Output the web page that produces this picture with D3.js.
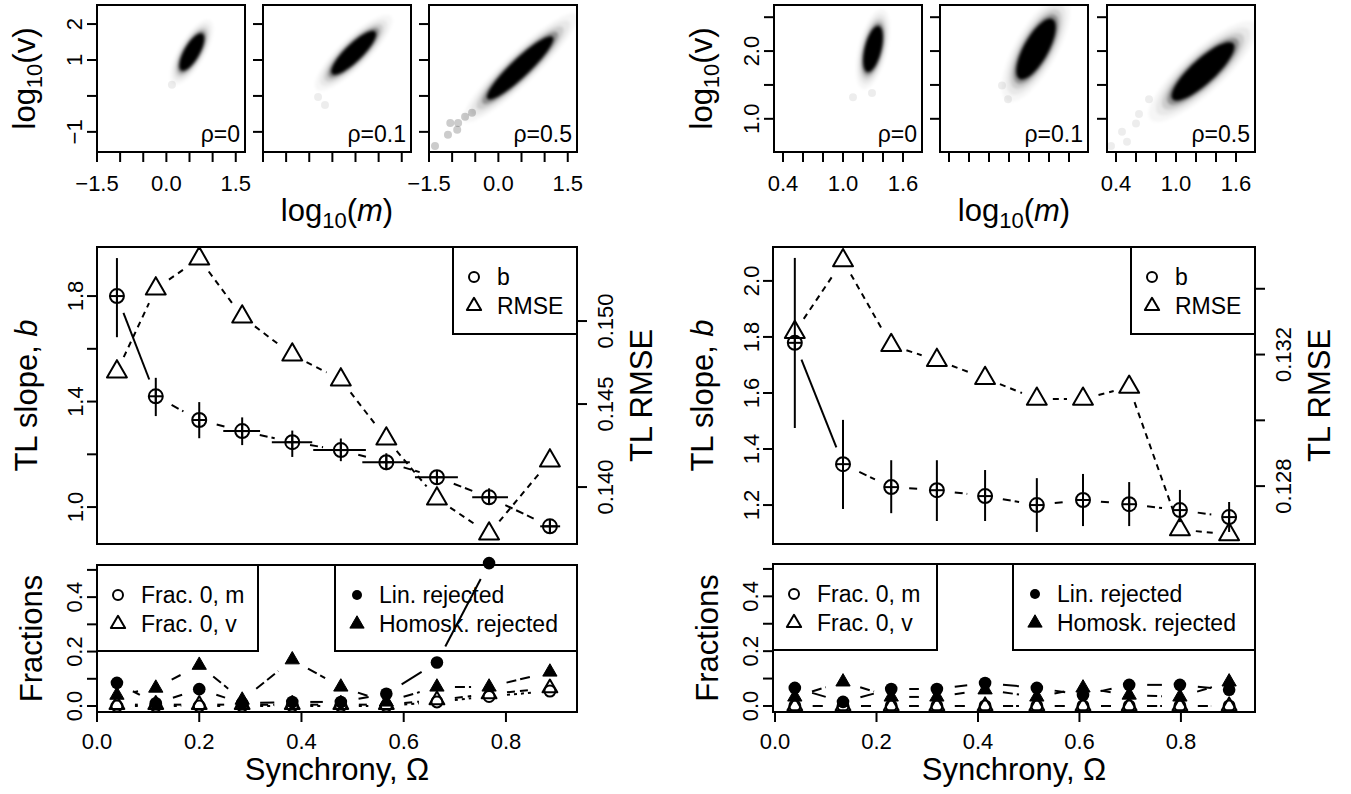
<!DOCTYPE html>
<html><head><meta charset="utf-8">
<script src="https://d3js.org/d3.v7.min.js"></script>
<style>
body{margin:0;background:#fff;}
svg text{font-family:"Liberation Sans",Arial,Helvetica,sans-serif;fill:#000;}
</style></head><body>
<svg id="chart" width="1351" height="794"></svg>
<script>
// ===================== DATA =====================
const rhoLabels = ["ρ=0", "ρ=0.1", "ρ=0.5"];
// scatter clouds, left figure: centre, spread and correlation of log10(m), log10(v)
const cloudLMeanM = [0.55, 0.46, 0.47];
const cloudLMeanV = [1.22, 1.20, 0.78];
const cloudLSdM   = [0.15, 0.27, 0.40];
const cloudLSdV   = [0.29, 0.34, 0.49];
const cloudLCorr  = [0.72, 0.85, 0.92];
const strayLPanel = [0, 1, 1, 2, 2, 2, 2, 2, 2, 2];
const strayLM     = [0.12, -0.16, -0.31, -1.37, -1.09, -0.89, -1.04, -0.87, -0.72, -0.57];
const strayLV     = [0.31, -0.25, -0.03, -1.39, -1.08, -0.94, -0.75, -0.75, -0.58, -0.47];
// scatter clouds, right figure
const cloudRMeanM = [1.30, 1.27, 1.27];
const cloudRMeanV = [2.03, 2.03, 1.70];
const cloudRSdM   = [0.055, 0.11, 0.175];
const cloudRSdV   = [0.19, 0.25, 0.24];
const cloudRCorr  = [0.50, 0.72, 0.84];
const strayRPanel = [0, 0, 1, 1, 2, 2, 2, 2, 2, 2];
const strayRM     = [1.10, 1.29, 0.93, 0.99, 0.35, 0.46, 0.51, 0.63, 0.73, 0.60];
const strayRV     = [1.32, 1.38, 1.49, 1.29, 0.60, 0.81, 0.66, 1.07, 1.29, 0.93];

// scatter tick labels
const scatXTicksL = [-1.5, -1, -0.5, 0, 0.5, 1, 1.5];
const scatXLabsL  = ["−1.5", "", "", "0.0", "", "", "1.5"];
const scatYTicksL = [-1, 0, 1, 2];
const scatYLabsL  = ["−1", "", "1", "2"];
const scatXTicksR = [0.4, 0.6, 0.8, 1.0, 1.2, 1.4, 1.6];
const scatXLabsR  = ["0.4", "", "", "1.0", "", "", "1.6"];
const scatYTicksR = [1.0, 1.5, 2.0, 2.5];
const scatYLabsR  = ["1.0", "", "2.0", ""];

// TL slope / RMSE, left figure
const omegaL    = [0.039, 0.115, 0.200, 0.284, 0.382, 0.477, 0.566, 0.665, 0.767, 0.886];
const omegaLoL  = [0.039, 0.115, 0.200, 0.247, 0.342, 0.423, 0.519, 0.622, 0.734, 0.867];
const omegaHiL  = [0.039, 0.115, 0.200, 0.319, 0.421, 0.526, 0.612, 0.706, 0.804, 0.906];
const slopeL    = [1.800, 1.420, 1.330, 1.288, 1.246, 1.216, 1.170, 1.113, 1.037, 0.927];
const slopeLoL  = [1.644, 1.345, 1.261, 1.235, 1.190, 1.174, 1.140, 1.090, 1.014, 0.904];
const slopeHiL  = [1.944, 1.490, 1.398, 1.340, 1.290, 1.260, 1.204, 1.140, 1.071, 0.950];
const rmseL     = [0.14695, 0.15195, 0.15376, 0.15026, 0.14797, 0.14647, 0.14291, 0.13930, 0.13719, 0.14159];
// TL slope / RMSE, right figure
const omegaR    = [0.039, 0.134, 0.229, 0.319, 0.414, 0.516, 0.607, 0.698, 0.798, 0.895];
const slopeR    = [1.779, 1.346, 1.264, 1.253, 1.232, 1.200, 1.218, 1.203, 1.182, 1.157];
const slopeLoR  = [1.475, 1.186, 1.171, 1.143, 1.143, 1.104, 1.125, 1.125, 1.139, 1.104];
const slopeHiR  = [2.082, 1.504, 1.360, 1.360, 1.325, 1.296, 1.311, 1.282, 1.254, 1.211];
const rmseR     = [0.13268, 0.13486, 0.13228, 0.13183, 0.13128, 0.13065, 0.13065, 0.13101, 0.12668, 0.12653];

const slopeTicksL = [1.0, 1.2, 1.4, 1.6, 1.8];
const slopeLabsL  = ["1.0", "", "1.4", "", "1.8"];
const rmseTicksL  = [0.140, 0.145, 0.150];
const rmseLabsL   = ["0.140", "0.145", "0.150"];
const slopeTicksR = [1.2, 1.4, 1.6, 1.8, 2.0];
const slopeLabsR  = ["1.2", "1.4", "1.6", "1.8", "2.0"];
const rmseTicksR  = [0.128, 0.130, 0.132, 0.134];
const rmseLabsR   = ["0.128", "", "0.132", ""];

// Fractions, left figure
const frac0mL  = [0.0, 0.0, 0.0, 0.0, 0.0, 0.0, 0.0, 0.015, 0.035, 0.055];
const frac0vL  = [0.005, 0.005, 0.005, 0.005, 0.005, 0.005, 0.005, 0.022, 0.044, 0.066];
const linRejL  = [0.085, 0.010, 0.062, 0.010, 0.015, 0.015, 0.045, 0.160, 0.525, null];
const homRejL  = [0.040, 0.066, 0.150, 0.022, 0.170, 0.070, 0.015, 0.070, 0.070, 0.125];
// Fractions, right figure
const frac0mR  = [0, 0, 0, 0, 0, 0, 0, 0, 0, 0];
const frac0vR  = [0, 0, 0, 0, 0, 0, 0, 0, 0, 0];
const linRejR  = [0.066, 0.015, 0.062, 0.062, 0.084, 0.066, 0.040, 0.077, 0.077, 0.059];
const homRejR  = [0.033, 0.088, 0.033, 0.033, 0.059, 0.033, 0.066, 0.040, 0.033, 0.088];

const fracTicks = [0, 0.1, 0.2, 0.3, 0.4, 0.5];
const fracLabs  = ["0.0", "", "0.2", "", "0.4", ""];
const omegaTicks = [0, 0.2, 0.4, 0.6, 0.8];
const omegaLabs  = ["0.0", "0.2", "0.4", "0.6", "0.8"];

const legendMid = ["b", "RMSE"];
const legendFrac1 = ["Frac. 0, m", "Frac. 0, v"];
const legendFrac2 = ["Lin. rejected", "Homosk. rejected"];

// ===================== DRAWING =====================
const svg = d3.select("#chart");
const defs = svg.append("defs");
defs.append("filter").attr("id", "soft").attr("x", "-20%").attr("y", "-20%").attr("width", "140%").attr("height", "140%")
  .append("feGaussianBlur").attr("stdDeviation", 1.8);

const TICK_FS = 22, TITLE_FS = 31, LEG_FS = 23;
const LW = 2;

function triPath(s) {
  const r = 1.5551 * s, xc = 1.3468 * s, yc = 0.7776 * s;
  return `M0,${-r}L${xc},${yc}L${-xc},${yc}Z`;
}
function marker(g, type, x, y, s) {
  if (type === "pch10") {
    g.append("circle").attr("cx", x).attr("cy", y).attr("r", s).attr("fill", "none").attr("stroke", "#000").attr("stroke-width", LW);
    g.append("line").attr("x1", x - s).attr("x2", x + s).attr("y1", y).attr("y2", y).attr("stroke", "#000").attr("stroke-width", LW);
    g.append("line").attr("x1", x).attr("x2", x).attr("y1", y - s).attr("y2", y + s).attr("stroke", "#000").attr("stroke-width", LW);
  } else if (type === "circle") {
    g.append("circle").attr("cx", x).attr("cy", y).attr("r", s).attr("fill", "none").attr("stroke", "#000").attr("stroke-width", LW);
  } else if (type === "dot") {
    g.append("circle").attr("cx", x).attr("cy", y).attr("r", s).attr("fill", "#000");
  } else if (type === "tri") {
    g.append("path").attr("d", triPath(s)).attr("transform", `translate(${x},${y})`).attr("fill", "none").attr("stroke", "#000").attr("stroke-width", LW).attr("stroke-linejoin", "round");
  } else if (type === "ftri") {
    g.append("path").attr("d", triPath(s)).attr("transform", `translate(${x},${y})`).attr("fill", "#000").attr("stroke", "#000").attr("stroke-width", 1);
  }
}
// R type="b": segments with gaps around points
function bLine(g, xs, ys, xv, yv, gap, dashFn) {
  for (let i = 0; i < xv.length - 1; i++) {
    if (yv[i] == null || yv[i + 1] == null) continue;
    const x0 = xs(xv[i]), y0 = ys(yv[i]), x1 = xs(xv[i + 1]), y1 = ys(yv[i + 1]);
    const dx = x1 - x0, dy = y1 - y0, d = Math.hypot(dx, dy);
    if (d <= 2 * gap) continue;
    const ux = dx / d, uy = dy / d;
    const ln = g.append("line").attr("x1", x0 + ux * gap).attr("y1", y0 + uy * gap)
      .attr("x2", x1 - ux * gap).attr("y2", y1 - uy * gap)
      .attr("stroke", "#000").attr("stroke-width", LW).attr("stroke-linecap", "butt");
    const da = dashFn(i);
    if (da) ln.attr("stroke-dasharray", da);
  }
}
function styleAxis(a) {
  a.selectAll("line").attr("stroke-width", LW);
  a.select(".domain").remove();
  a.selectAll("text").attr("font-size", TICK_FS).attr("font-family", '"Liberation Sans",Arial,sans-serif').attr("fill", "#000");
}
function yAxis(g, scale, ticks, labs, side, x, off) {
  const ax = (side === "left" ? d3.axisLeft(scale) : d3.axisRight(scale))
    .tickValues(ticks).tickSize(10).tickSizeOuter(0).offset(0).tickFormat((d, i) => labs[i]);
  const a = g.append("g").attr("transform", `translate(${x},0)`).call(ax);
  styleAxis(a);
  a.append("line").attr("x1", 0).attr("x2", 0).attr("y1", scale(ticks[0])).attr("y2", scale(ticks[ticks.length - 1])).attr("stroke", "#000").attr("stroke-width", LW);
  a.selectAll(".tick text").attr("x", null).attr("dy", null).attr("y", null)
    .attr("transform", `translate(${side === "left" ? -off : off},0) rotate(-90)`)
    .attr("text-anchor", "middle").attr("dominant-baseline", "central");
}
function xAxis(g, scale, ticks, labs, y, off) {
  const ax = d3.axisBottom(scale).tickValues(ticks).tickSize(10).tickSizeOuter(0).offset(0).tickFormat((d, i) => labs[i]);
  const a = g.append("g").attr("transform", `translate(0,${y})`).call(ax);
  styleAxis(a);
  a.append("line").attr("y1", 0).attr("y2", 0).attr("x1", scale(ticks[0])).attr("x2", scale(ticks[ticks.length - 1])).attr("stroke", "#000").attr("stroke-width", LW);
  a.selectAll(".tick text").attr("y", off).attr("dy", "0.71em");
}
function box(g, x0, y0, x1, y1) {
  g.append("rect").attr("x", x0).attr("y", y0).attr("width", x1 - x0).attr("height", y1 - y0)
    .attr("fill", "none").attr("stroke", "#000").attr("stroke-width", LW);
}
function addParts(t, parts) {
  parts.forEach(p => {
    const s = t.append("tspan").text(p.t);
    if (p.it) s.attr("font-style", "italic");
    if (p.sub) s.attr("font-size", 22).attr("dy", 7);
    if (p.up) s.attr("dy", -7);
  });
  return t;
}
function vTitle(g, x, y, parts) {
  return addParts(g.append("text").attr("transform", `translate(${x},${y}) rotate(-90)`).attr("text-anchor", "middle").attr("font-size", TITLE_FS), parts);
}
function hTitle(g, x, y, parts) {
  return addParts(g.append("text").attr("x", x).attr("y", y).attr("text-anchor", "middle").attr("font-size", TITLE_FS), parts);
}
const cloudLevels = [{k: 3.1, o: 0.035}, {k: 2.7, o: 0.06}, {k: 2.35, o: 0.12}, {k: 2.05, o: 0.3}, {k: 1.8, o: 1}];

function drawScatterRow(c) {
  c.lefts.forEach((L, i) => {
    const xs = d3.scaleLinear(c.xDom, [L, L + c.width]);
    const ys = d3.scaleLinear(c.yDom, [c.bottom, c.top]);
    const g = svg.append("g");
    const clipId = `clip${c.id}${i}`;
    defs.append("clipPath").attr("id", clipId).append("rect").attr("x", L).attr("y", c.top).attr("width", c.width).attr("height", c.bottom - c.top);
    const cg = g.append("g").attr("clip-path", `url(#${clipId})`);
    c.strayPanel.forEach((p, j) => {
      if (p !== i) return;
      cg.append("circle").attr("cx", xs(c.strayM[j])).attr("cy", ys(c.strayV[j])).attr("r", 4)
        .attr("fill", "#000").attr("fill-opacity", i === 2 && c.id === "L" ? 0.2 : 0.07);
    });
    const cl = cg.append("g").attr("filter", "url(#soft)");
    const mx = c.meanM[i], my = c.meanV[i], sx = c.sdM[i], sy = c.sdV[i], r = c.corr[i];
    const q = Math.sqrt(1 - r * r);
    cloudLevels.forEach(lv => {
      const pts = d3.range(72).map(j => {
        const t = j / 72 * 2 * Math.PI;
        return [xs(mx + lv.k * sx * Math.cos(t)), ys(my + lv.k * sy * (r * Math.cos(t) + q * Math.sin(t)))];
      });
      cl.append("path").attr("d", d3.line().curve(d3.curveLinearClosed)(pts)).attr("fill", "#000").attr("fill-opacity", lv.o);
    });
    box(g, L, c.top, L + c.width, c.bottom);
    xAxis(g, xs, c.xTicks, i === 1 ? c.xTicks.map(() => "") : c.xLabs, c.bottom, 23);
    yAxis(g, ys, c.yTicks, i === 0 ? c.yLabs : c.yTicks.map(() => ""), "left", L, 22.5);
    g.append("text").attr("x", L + c.width - 5).attr("y", c.bottom - 10).attr("text-anchor", "end").attr("font-size", LEG_FS).text(rhoLabels[i]);
  });
}

function legend(g, x0, y0, x1, y1, symX, txtX, rows, labels, types, s) {
  box(g, x0, y0, x1, y1);
  labels.forEach((lab, i) => {
    marker(g, types[i], symX, rows[i], s[i]);
    g.append("text").attr("x", txtX).attr("y", rows[i] + 8).attr("font-size", LEG_FS).text(lab);
  });
}

function drawMid(c) {
  const xs = d3.scaleLinear(c.xDom, [c.x0, c.x1]);
  const yb = d3.scaleLinear(c.bDom, [c.yBot, c.yTop]);
  const yr = d3.scaleLinear(c.rDom, [c.yBot, c.yTop]);
  const g = svg.append("g");
  bLine(g, xs, yb, c.omega, c.slope, 18, i => i === 0 ? null : "8,4");
  bLine(g, xs, yr, c.omega, c.rmse, 16, () => "6,5");
  c.omega.forEach((o, i) => {
    g.append("line").attr("x1", xs(o)).attr("x2", xs(o)).attr("y1", yb(c.slopeLo[i])).attr("y2", yb(c.slopeHi[i])).attr("stroke", "#000").attr("stroke-width", LW);
    if (c.omegaLo) g.append("line").attr("x1", xs(c.omegaLo[i])).attr("x2", xs(c.omegaHi[i])).attr("y1", yb(c.slope[i])).attr("y2", yb(c.slope[i])).attr("stroke", "#000").attr("stroke-width", LW);
    marker(g, "pch10", xs(o), yb(c.slope[i]), 7);
    marker(g, "tri", xs(o), yr(c.rmse[i]), 7.4);
  });
  legend(g, c.legX0, c.yTop, c.x1, c.yTop + 87, c.legX0 + 21, c.legX0 + 44, [c.yTop + 30, c.yTop + 59], legendMid, ["circle", "tri"], [5, 5.3]);
  box(g, c.x0, c.yTop, c.x1, c.yBot);
  yAxis(g, yb, c.bTicks, c.bLabs, "left", c.x0, 22);
  yAxis(g, yr, c.rTicks, c.rLabs, "right", c.x1, 28.5);
  vTitle(g, c.x0 - 60, (c.yTop + c.yBot) / 2, [{t: "TL slope, "}, {t: "b", it: true}]);
  vTitle(g, c.x1 + 75, (c.yTop + c.yBot) / 2, [{t: "TL RMSE"}]);
}

function drawBot(c) {
  const xs = d3.scaleLinear(c.xDom, [c.x0, c.x1]);
  const ys = d3.scaleLinear(c.yDom, [c.yBot, c.yTop]);
  const g = svg.append("g");
  legend(g, c.x0, c.yTop, c.leg1X1, c.yTop + 86, c.x0 + 21, c.x0 + 44, [c.yTop + 30, c.yTop + 59], legendFrac1, ["circle", "tri"], [5, 5.3]);
  legend(g, c.leg2X0, c.yTop, c.x1, c.yTop + 86, c.leg2X0 + 22, c.leg2X0 + 44, [c.yTop + 30, c.yTop + 59], legendFrac2, ["dot", "ftri"], [5, 5.3]);
  bLine(g, xs, ys, c.omega, c.m0, 18, () => "3,4");
  bLine(g, xs, ys, c.omega, c.v0, 18, () => "8,5");
  bLine(g, xs, ys, c.omega, c.lin, 18, () => null);
  bLine(g, xs, ys, c.omega, c.hom, 18, () => "10,4");
  c.omega.forEach((o, i) => {
    if (c.m0[i] != null) marker(g, "circle", xs(o), ys(c.m0[i]), 5.5);
    if (c.v0[i] != null) marker(g, "tri", xs(o), ys(c.v0[i]), 5.5);
    if (c.lin[i] != null) marker(g, "dot", xs(o), ys(c.lin[i]), 6.3);
    if (c.hom[i] != null) marker(g, "ftri", xs(o), ys(c.hom[i]), 5.3);
  });
  box(g, c.x0, c.yTop, c.x1, c.yBot);
  yAxis(g, ys, fracTicks, fracLabs, "left", c.x0, 22.5);
  xAxis(g, xs, omegaTicks, omegaLabs, c.yBot, 21);
  vTitle(g, c.x0 - 55, (c.yTop + c.yBot) / 2, [{t: "Fractions"}]);
  hTitle(g, (c.x0 + c.x1) / 2, 780, [{t: "Synchrony, Ω"}]);
}

// ---- left figure ----
drawScatterRow({id: "L", lefts: [97, 263, 429], width: 148, top: 5, bottom: 152,
  xDom: [-1.5, 1.7], yDom: [-1.56, 2.53],
  xTicks: scatXTicksL, xLabs: scatXLabsL, yTicks: scatYTicksL, yLabs: scatYLabsL,
  meanM: cloudLMeanM, meanV: cloudLMeanV, sdM: cloudLSdM, sdV: cloudLSdV, corr: cloudLCorr,
  strayPanel: strayLPanel, strayM: strayLM, strayV: strayLV});
vTitle(svg, 35, 78.5, [{t: "log"}, {t: "10", sub: true}, {t: "(", up: true}, {t: "v"}, {t: ")"}]);
hTitle(svg, 337, 221, [{t: "log"}, {t: "10", sub: true}, {t: "(", up: true}, {t: "m", it: true}, {t: ")"}]);

drawMid({x0: 97, x1: 577, yTop: 247, yBot: 544, xDom: [0, 0.939], bDom: [0.86, 1.986], rDom: [0.13657, 0.15446],
  omega: omegaL, omegaLo: omegaLoL, omegaHi: omegaHiL, slope: slopeL, slopeLo: slopeLoL, slopeHi: slopeHiL, rmse: rmseL,
  bTicks: slopeTicksL, bLabs: slopeLabsL, rTicks: rmseTicksL, rLabs: rmseLabsL, legX0: 453});

drawBot({x0: 97, x1: 577, yTop: 565, yBot: 712, xDom: [0, 0.939], yDom: [-0.022, 0.518],
  omega: omegaL, m0: frac0mL, v0: frac0vL, lin: linRejL, hom: homRejL, leg1X1: 258, leg2X0: 335});

// ---- right figure ----
drawScatterRow({id: "R", lefts: [774, 940, 1107], width: 148, top: 5, bottom: 152,
  xDom: [0.31, 1.79], yDom: [0.51, 2.68],
  xTicks: scatXTicksR, xLabs: scatXLabsR, yTicks: scatYTicksR, yLabs: scatYLabsR,
  meanM: cloudRMeanM, meanV: cloudRMeanV, sdM: cloudRSdM, sdV: cloudRSdV, corr: cloudRCorr,
  strayPanel: strayRPanel, strayM: strayRM, strayV: strayRV});
vTitle(svg, 712, 78.5, [{t: "log"}, {t: "10", sub: true}, {t: "(", up: true}, {t: "v"}, {t: ")"}]);
hTitle(svg, 1014, 221, [{t: "log"}, {t: "10", sub: true}, {t: "(", up: true}, {t: "m", it: true}, {t: ")"}]);

drawMid({x0: 773, x1: 1255, yTop: 247, yBot: 544, xDom: [-0.004, 0.946], bDom: [1.061, 2.121], rDom: [0.12624, 0.13527],
  omega: omegaR, omegaLo: null, omegaHi: null, slope: slopeR, slopeLo: slopeLoR, slopeHi: slopeHiR, rmse: rmseR,
  bTicks: slopeTicksR, bLabs: slopeLabsR, rTicks: rmseTicksR, rLabs: rmseLabsR, legX0: 1131});

drawBot({x0: 773, x1: 1255, yTop: 564, yBot: 712, xDom: [-0.004, 0.946], yDom: [-0.022, 0.518],
  omega: omegaR, m0: frac0mR, v0: frac0vR, lin: linRejR, hom: homRejR, leg1X1: 937, leg2X0: 1013});
</script>
</body></html>
